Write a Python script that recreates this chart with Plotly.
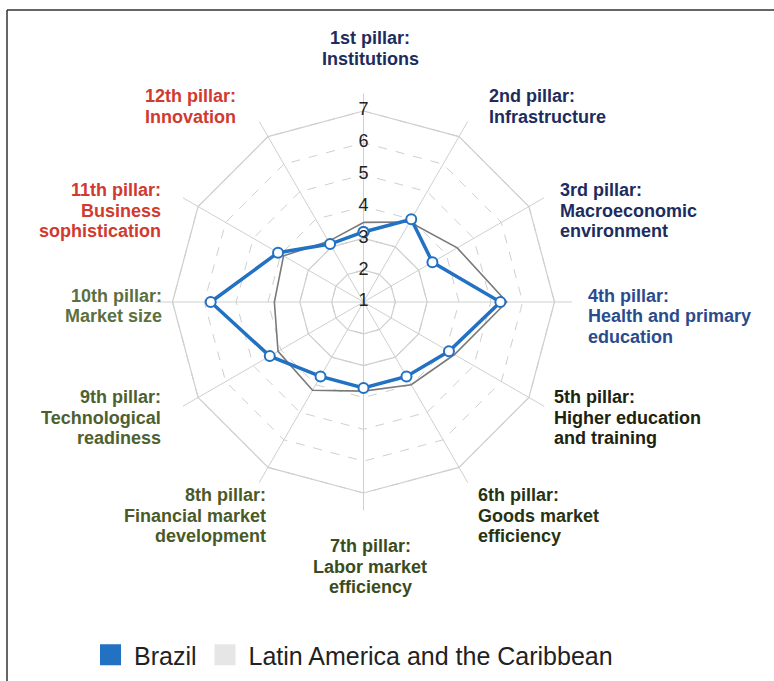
import plotly.graph_objects as go

# ---------------- data ----------------
pillars = [
    "1st pillar: Institutions",
    "2nd pillar: Infrastructure",
    "3rd pillar: Macroeconomic environment",
    "4th pillar: Health and primary education",
    "5th pillar: Higher education and training",
    "6th pillar: Goods market efficiency",
    "7th pillar: Labor market efficiency",
    "8th pillar: Financial market development",
    "9th pillar: Technological readiness",
    "10th pillar: Market size",
    "11th pillar: Business sophistication",
    "12th pillar: Innovation",
]
label_lines = [
    ["1st pillar:", "Institutions"],
    ["2nd pillar:", "Infrastructure"],
    ["3rd pillar:", "Macroeconomic", "environment"],
    ["4th pillar:", "Health and primary", "education"],
    ["5th pillar:", "Higher education", "and training"],
    ["6th pillar:", "Goods market", "efficiency"],
    ["7th pillar:", "Labor market", "efficiency"],
    ["8th pillar:", "Financial market", "development"],
    ["9th pillar:", "Technological", "readiness"],
    ["10th pillar:", "Market size"],
    ["11th pillar:", "Business", "sophistication"],
    ["12th pillar:", "Innovation"],
]
brazil = [3.2, 4.0, 3.5, 5.3, 4.1, 3.7, 3.7, 3.7, 4.4, 5.8, 4.1, 3.1]
latam = [3.5, 3.9, 4.4, 5.5, 4.3, 4.0, 3.8, 4.2, 4.1, 3.8, 3.9, 3.2]
radial_ticks = [1, 2, 3, 4, 5, 6, 7]
series_names = ["Brazil", "Latin America and the Caribbean"]

# ---------------- styles ----------------
W, H = 774, 681
BLUE = "#2271c3"
GRID = "#cfcfcf"
label_colors = ["#1d2c5e", "#1d2c5e", "#1d2c5e", "#2a4b8d", "#1c2410", "#263313",
                "#3a4c1c", "#4a5a26", "#4d6130", "#5b7041", "#d03a2f", "#d03a2f"]
# (x px, anchor, first line y px)
label_pos = [(370, "center", 38), (487, "left", 96), (558, "left", 190),
             (586, "left", 296), (552, "left", 397), (476, "left", 495),
             (370, "center", 546), (268, "right", 495), (163, "right", 397),
             (164, "right", 296), (163, "right", 190), (238, "right", 96)]
LINE_GAP = 20.5

cx, cy = 363.5, 302
rmax = 7.55
R = 191 * (rmax - 1) / 6

fig = go.Figure()

closed = pillars + [pillars[0]]

# solid grid polygons (inner and outer)
for lvl in [2, 3, 7]:
    fig.add_trace(go.Scatterpolar(r=[lvl] * len(closed), theta=closed, mode="lines",
                                  line=dict(color=GRID, width=1.2), hoverinfo="skip",
                                  showlegend=False))

fig.add_trace(go.Scatterpolar(
    r=latam + [latam[0]], theta=closed, mode="lines", name=series_names[1],
    line=dict(color="#7a7a7a", width=1.6), showlegend=False))

fig.add_trace(go.Scatterpolar(
    r=brazil + [brazil[0]], theta=closed, mode="lines+markers", name=series_names[0],
    line=dict(color=BLUE, width=3.5),
    marker=dict(size=10, color="white", line=dict(color=BLUE, width=2)),
    showlegend=False))

# radial tick labels centered on the top spoke
fig.add_trace(go.Scatterpolar(
    r=[t + 0.001 for t in radial_ticks], theta=[pillars[0]] * len(radial_ticks), mode="text",
    text=[str(t) for t in radial_ticks], textposition="middle center",
    textfont=dict(family="Liberation Sans, Arial", size=18, color="#222"),
    hoverinfo="skip", showlegend=False))

# legend entries (square swatches)
fig.add_trace(go.Scatterpolar(r=[None], theta=[pillars[0]], mode="markers", name=series_names[0],
                              marker=dict(symbol="square", size=16, color=BLUE,
                                          line=dict(color=BLUE, width=9))))
fig.add_trace(go.Scatterpolar(r=[None], theta=[pillars[0]], mode="markers", name=series_names[1],
                              marker=dict(symbol="square", size=16, color="#e6e6e6",
                                          line=dict(color="#e6e6e6", width=8))))

annotations = []
for lines, (x, anchor, y0), col in zip(label_lines, label_pos, label_colors):
    for i, t in enumerate(lines):
        annotations.append(dict(
            text="<b>%s</b>" % t, x=x / W, y=1 - (y0 + i * LINE_GAP) / H,
            xref="paper", yref="paper", xanchor=anchor, yanchor="middle",
            showarrow=False, font=dict(family="Liberation Sans, Arial", size=18, color=col)))

fig.update_layout(
    width=W, height=H,
    margin=dict(l=0, r=0, t=0, b=0),
    paper_bgcolor="white",
    polar=dict(
        domain=dict(x=[(cx - R) / W, (cx + R) / W], y=[1 - (cy + R) / H, 1 - (cy - R) / H]),
        bgcolor="white",
        radialaxis=dict(range=[1, rmax], tickvals=radial_ticks, showticklabels=False,
                        ticks="", showline=False, gridcolor=GRID, griddash="dash",
                        gridwidth=1.2),
        angularaxis=dict(rotation=90, direction="clockwise", showticklabels=False,
                         ticks="", showline=False, gridcolor=GRID, gridwidth=1.2),
        gridshape="linear",
    ),
    legend=dict(orientation="h", x=87 / W, y=1 - 655 / H, xanchor="left", yanchor="middle",
                itemwidth=37,
                font=dict(family="Liberation Sans, Arial", size=25, color="#222"),
                bgcolor="rgba(0,0,0,0)"),
    annotations=annotations,
    shapes=[
        dict(type="line", xref="paper", yref="paper", x0=7 / W, x1=1.02, y0=1 - 10 / H, y1=1 - 10 / H,
             line=dict(color="#333", width=1.5)),
        dict(type="line", xref="paper", yref="paper", x0=7 / W, x1=7 / W, y0=1 - 10 / H, y1=-0.02,
             line=dict(color="#333", width=1.5)),
    ],
)

fig.write_html("out.html", config={"displayModeBar": False},
               post_script="document.body.style.margin='0';")
